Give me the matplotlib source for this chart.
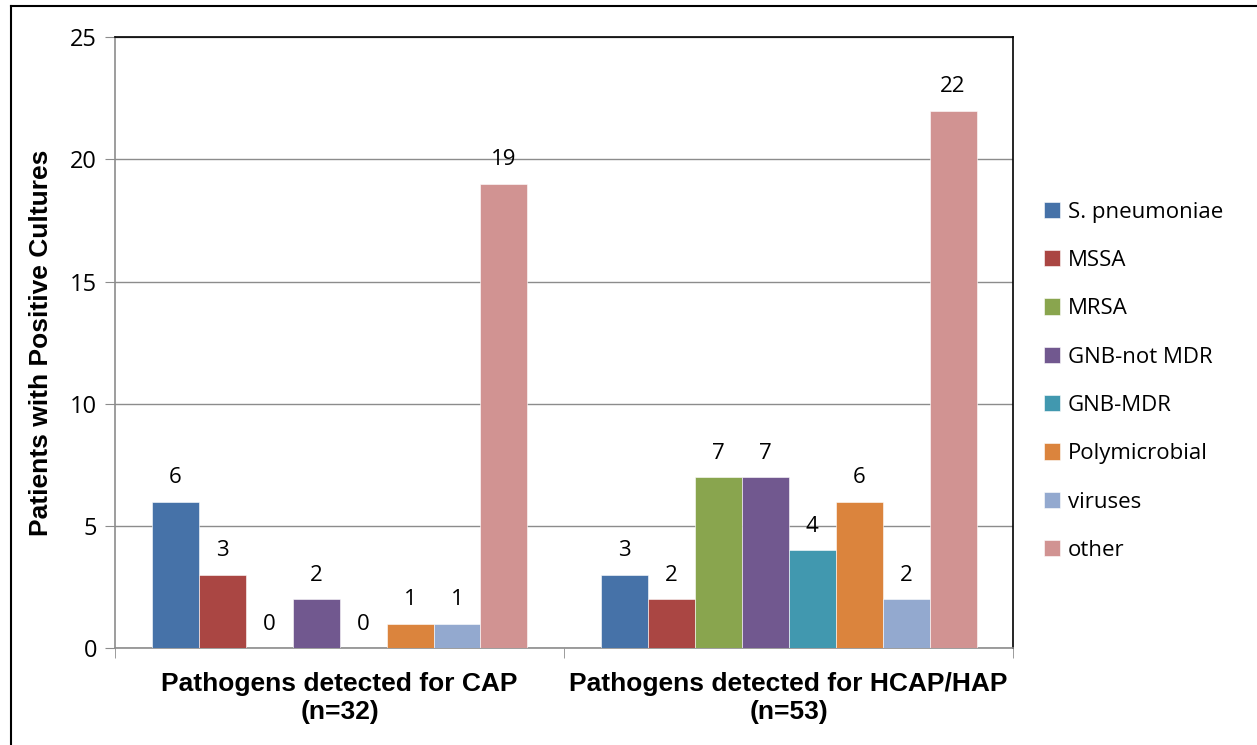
import matplotlib
matplotlib.use("Agg")
import matplotlib.pyplot as plt
from matplotlib.lines import Line2D
import numpy as np

groups = ["Pathogens detected for CAP\n(n=32)", "Pathogens detected for HCAP/HAP\n(n=53)"]
series = ["S. pneumoniae", "MSSA", "MRSA", "GNB-not MDR", "GNB-MDR",
          "Polymicrobial", "viruses", "other"]
cap = [6, 3, 0, 2, 0, 1, 1, 19]
hcap = [3, 2, 7, 7, 4, 6, 2, 22]
colors = ["#4672A8", "#AA4643", "#89A54E", "#71588F", "#4198AF",
          "#DB843D", "#93A9CF", "#D19392"]

plt.rcParams['font.family'] = ['Open Sans', 'DejaVu Sans']

fig = plt.figure(figsize=(12.57, 7.45), dpi=100)
ax = fig.add_axes([0.0915, 0.130, 0.7145, 0.820])

n = len(series)
bw = 0.837 / n
x = np.arange(len(groups))
for i, name in enumerate(series):
    vals = [cap[i], hcap[i]]
    pos = x - 0.837 / 2 + bw * (i + 0.5)
    bars = ax.bar(pos, vals, width=bw, color=colors[i], label=name,
                  edgecolor="white", linewidth=0.4, zorder=3)
    for b, v in zip(bars, vals):
        ax.text(b.get_x() + b.get_width() / 2, v + 0.55, str(v),
                ha="center", va="bottom", fontsize=16)

ax.set_xlim(-0.5, 1.5)
ax.set_ylim(0, 25)
ax.set_yticks([0, 5, 10, 15, 20, 25])
ax.yaxis.grid(True, color="#8c8c8c", linewidth=1.0, zorder=0)
ax.set_axisbelow(True)
ax.tick_params(axis="y", labelsize=17, length=7, color="#8c8c8c", pad=6)

ax.set_xticks(x)
ax.set_xticklabels(groups, fontsize=19, fontweight="bold",
                   family=['Liberation Sans', 'DejaVu Sans'], linespacing=1.2)
ax.tick_params(axis="x", length=0, pad=17)
ax.set_xticks([-0.5, 0.5, 1.5], minor=True)
ax.tick_params(axis="x", which="minor", length=7, color="#8c8c8c")

ax.set_ylabel("Patients with Positive Cultures", fontsize=19, fontweight="bold",
              family=['Liberation Sans', 'DejaVu Sans'], labelpad=12)

for s in ["left", "bottom"]:
    ax.spines[s].set_color("#8c8c8c")
    ax.spines[s].set_linewidth(1.2)
for s in ["top", "right"]:
    ax.spines[s].set_color("black")
    ax.spines[s].set_linewidth(1.2)

ax.legend(loc="center left", bbox_to_anchor=(1.024, 0.437), frameon=False,
          fontsize=16, handlelength=0.75, handleheight=0.75, handletextpad=0.35,
          labelspacing=1.23, borderaxespad=0.0)

fig.add_artist(Line2D([0.0088, 0.0088], [0, 0.992], color="black", linewidth=1.5,
                      transform=fig.transFigure))
fig.add_artist(Line2D([0.0088, 1.0], [0.992, 0.992], color="black", linewidth=1.5,
                      transform=fig.transFigure))

fig.savefig("out.png", dpi=100)
